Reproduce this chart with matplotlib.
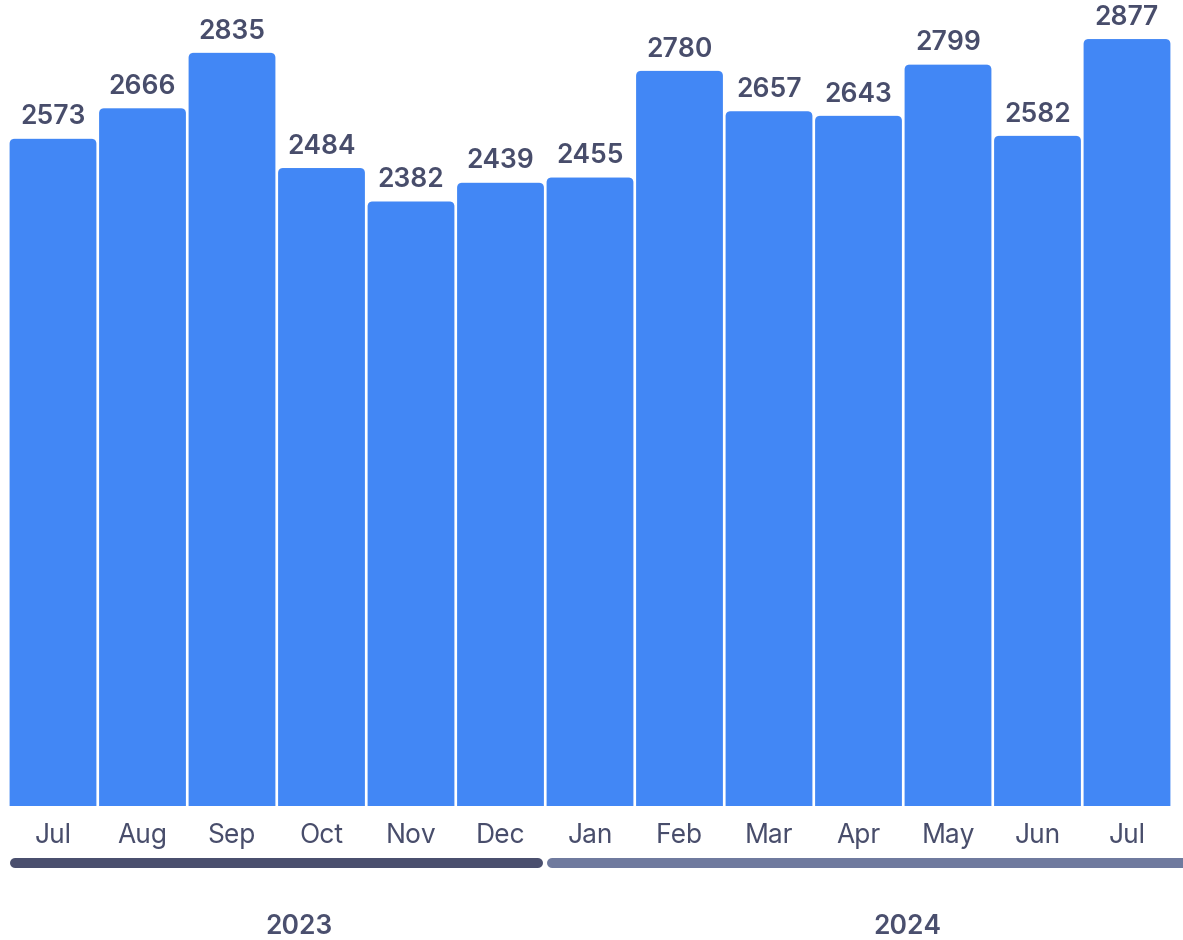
import matplotlib
matplotlib.use('Agg')
import matplotlib.pyplot as plt
import matplotlib.transforms as mtransforms
from matplotlib.patches import FancyBboxPatch

# data
months = ['Jul', 'Aug', 'Sep', 'Oct', 'Nov', 'Dec',
          'Jan', 'Feb', 'Mar', 'Apr', 'May', 'Jun', 'Jul']
values = [2573, 2666, 2835, 2484, 2382, 2439,
          2455, 2780, 2657, 2643, 2799, 2582, 2877]
years = ['2023', '2024']
year_first_idx = [0, 6]
year_last_idx = [5, 12]

COLORS = {
    'bar': '#4287f5',
    'text': '#484d6b',
    'year_dark': '#4a4f6e',
    'year_light': '#6f7a9e',
}

plt.rcParams['font.family'] = ['Inter', 'DejaVu Sans']

W, H, DPI = 1183, 940, 100
fig = plt.figure(figsize=(W / DPI, H / DPI), dpi=DPI, facecolor='white')
ax_left, ax_bottom = 8.25 / W, 1 - 806 / H
ax_w, ax_h = 1163.5 / W, 806 / H
ax = fig.add_axes([ax_left, ax_bottom, ax_w, ax_h])

ymin, ymax = 540, 2996
ax.set_xlim(-0.5, len(values) - 0.5)
ax.set_ylim(ymin, ymax)
ax.axis('off')

# rounded-top bars (bottom corners pushed below the axis and clipped)
bar_w = 0.97
x_per_px = len(values) / (ax_w * W)
y_per_px = (ymax - ymin) / (ax_h * H)
r = 5 * x_per_px
for i, v in enumerate(values):
    p = FancyBboxPatch((i - bar_w / 2, ymin - 40 * y_per_px), bar_w,
                       v - ymin + 40 * y_per_px,
                       boxstyle=f'round,pad=0,rounding_size={r}',
                       mutation_aspect=y_per_px / x_per_px,
                       facecolor=COLORS['bar'], edgecolor='none',
                       clip_on=True)
    ax.add_patch(p)
    ax.annotate(f'{v}', (i, v), xytext=(0, 6), textcoords='offset points',
                ha='center', va='bottom', fontsize=19, fontweight='semibold',
                color=COLORS['text'])

trans = mtransforms.blended_transform_factory(ax.transData, ax.transAxes)

# month labels
for i, m in enumerate(months):
    ax.text(i, -30 / 806, m, transform=trans, ha='center', va='center',
            fontsize=19, color=COLORS['text'])

# year bands + labels
line_y = -57 / 806
gap = 7 * x_per_px
for k, (yr, a, b) in enumerate(zip(years, year_first_idx, year_last_idx)):
    x0 = a - 0.5 + gap
    x1 = b + 0.5 - gap if k == 0 else b + 1.5
    col = COLORS['year_dark'] if k == 0 else COLORS['year_light']
    ax.plot([x0, x1], [line_y, line_y], transform=trans, color=col,
            linewidth=7.2, solid_capstyle='round', clip_on=False)
    ax.text((a + b) / 2 + 0.25 + 0.3 * k, -121 / 806, yr, transform=trans,
            ha='center', va='center', fontsize=19, fontweight='semibold',
            color=COLORS['year_dark'])

fig.savefig('out.png', dpi=DPI, facecolor='white')
